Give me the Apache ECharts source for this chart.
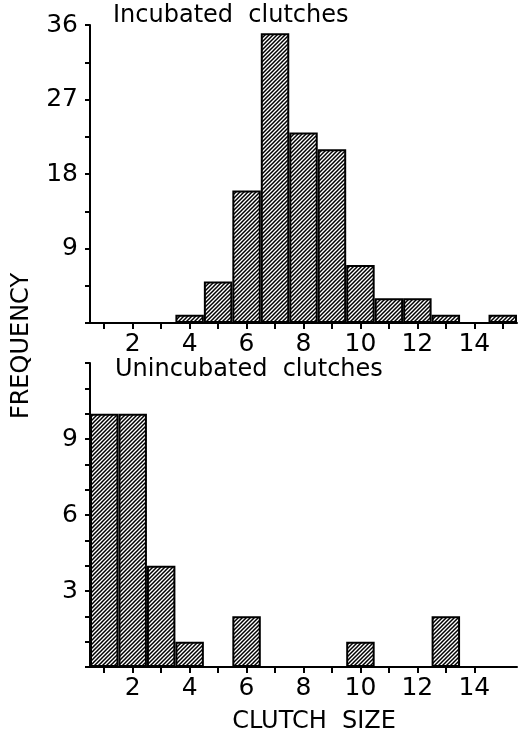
<!DOCTYPE html>
<html><head><meta charset="utf-8">
<script src="https://cdn.jsdelivr.net/npm/echarts@6/dist/echarts.min.js"></script>
<style>html,body{margin:0;padding:0;background:#fff}#c{width:518px;height:735px}</style>
</head><body><div id="c"></div>
<script>
const categories = ['1','2','3','4','5','6','7','8','9','10','11','12','13','14','15'];
const incubated = [0,0,0,1,5,16,35,23,21,7,3,3,1,0,1];
const unincubated = [10,10,4,1,0,2,0,0,0,1,0,0,2,0,0];
const topTicksLabeled = [9, 18, 27, 36];
const bottomTicksLabeled = [3, 6, 9];
const topTitle = 'Incubated  clutches';
const bottomTitle = 'Unincubated  clutches';
const yName = 'FREQUENCY';
const xName = 'CLUTCH  SIZE';

function hatch() {
  const s = 4;
  const c = document.createElement('canvas'); c.width = s; c.height = s;
  const ctx = c.getContext('2d');
  ctx.fillStyle = '#fff'; ctx.fillRect(0,0,s,s);
  ctx.strokeStyle = '#000'; ctx.lineWidth = 1.5;
  ctx.beginPath();
  ctx.moveTo(-1,s+1); ctx.lineTo(s+1,-1);
  ctx.moveTo(-1,1); ctx.lineTo(1,-1);
  ctx.moveTo(s-1,s+1); ctx.lineTo(s+1,s-1);
  ctx.stroke();
  return c;
}
const FONT = 'DejaVu Sans';
const axisLineStyle = {show: true, lineStyle: {color: '#000', width: 2}};
function xAxis(gi, lastTick) {
  return {
    type: 'category', gridIndex: gi, data: categories, boundaryGap: true,
    axisLine: axisLineStyle,
    axisTick: {show: true, alignWithLabel: true, interval: (i) => i <= lastTick, length: 6, lineStyle: {color:'#000', width: 2}},
    axisLabel: {interval: (i) => (i + 1) % 2 === 0 && i < 14, color: '#000', fontFamily: FONT, fontSize: 25, margin: 9},
    splitLine: {show: false}
  };
}
function yAxis(gi, max, interval, labeled) {
  return {
    type: 'value', gridIndex: gi, min: 0, max: max, interval: interval,
    axisLine: axisLineStyle,
    axisTick: {show: true, length: 5, lineStyle: {color:'#000', width: 2}},
    axisLabel: {color: '#000', fontFamily: FONT, fontSize: 25, margin: 12,
      formatter: (v) => labeled.includes(v) ? String(v) : ''},
    splitLine: {show: false}
  };
}
const pattern = {image: hatch(), repeat: 'repeat'};
const barStyle = {color: pattern, borderColor: '#000', borderWidth: 2};
const chart = echarts.init(document.getElementById('c'), null, {renderer: 'canvas'});
chart.setOption({
  animation: false,
  backgroundColor: '#fff',
  grid: [
    {left: 90, right: 1, top: 25, height: 298},
    {left: 90, right: 1, top: 363, height: 304}
  ],
  xAxis: [xAxis(0, 14), xAxis(1, 13)],
  yAxis: [yAxis(0, 36, 4.5, topTicksLabeled), yAxis(1, 12, 1, bottomTicksLabeled)],
  series: [
    {type: 'bar', xAxisIndex: 0, yAxisIndex: 0, data: incubated, barCategoryGap: '0%', itemStyle: barStyle},
    {type: 'bar', xAxisIndex: 1, yAxisIndex: 1, data: unincubated, barCategoryGap: '0%', itemStyle: barStyle}
  ],
  graphic: [
    {type: 'text', left: 113, top: 4, style: {text: topTitle, font: '24px "DejaVu Sans"', fill: '#000'}},
    {type: 'text', left: 115, top: 358, style: {text: bottomTitle, font: '24px "DejaVu Sans"', fill: '#000'}},
    {type: 'text', x: 22, y: 346, rotation: Math.PI / 2, style: {text: yName, font: '24px "DejaVu Sans"', fill: '#000', align: 'center', verticalAlign: 'middle'}},
    {type: 'text', x: 314, y: 722, style: {text: xName, font: '24px "DejaVu Sans"', fill: '#000', align: 'center', verticalAlign: 'middle'}}
  ]
});
</script></body></html>
